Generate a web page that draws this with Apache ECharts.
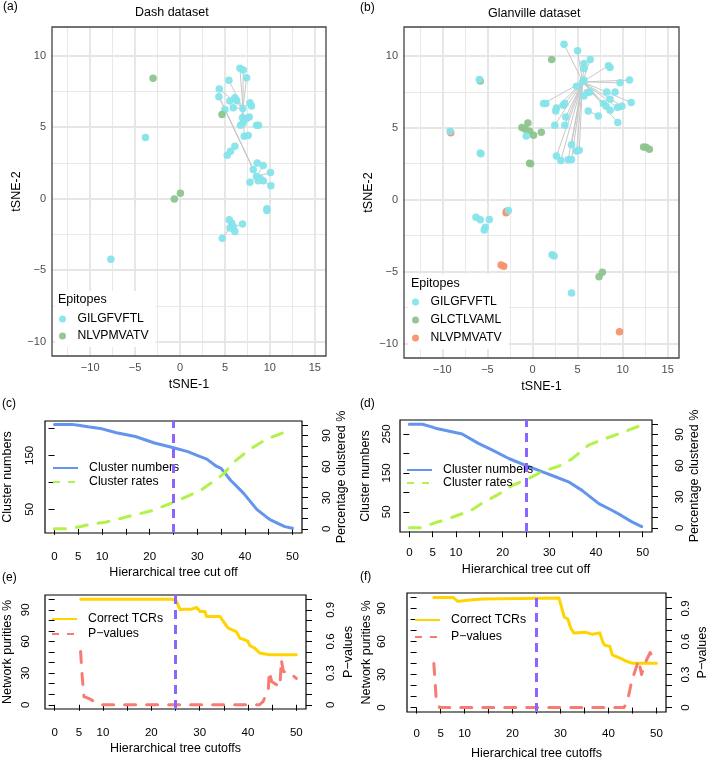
<!DOCTYPE html>
<html>
<head>
<meta charset="utf-8">
<title>tSNE clusters and tree cut-off</title>
<script src="https://cdn.jsdelivr.net/npm/echarts@6/dist/echarts.min.js"></script>
<style>
  html, body { margin: 0; padding: 0; background: #fff; }
  #chart { width: 710px; height: 761px; }
</style>
</head>
<body>
<div id="chart"></div>
<script>
// ---- (a) Dash dataset: tSNE coordinates per epitope ----
var dashGIL = [[-3.85,4.27],[-7.7,-4.24],[6.67,9.11],[7.04,8.99],[7.41,8.46],[5.44,8.27],[4.37,7.66],[4.33,7.13],
  [5.0,6.24],[5.56,6.82],[6.11,7.06],[6.3,6.87],[5.93,6.35],[7.78,6.7],[7.96,6.47],[7.0,6.3],[6.96,5.65],[7.41,5.6],
  [7.7,5.7],[6.74,5.14],[7.04,5.3],[8.52,5.14],[8.74,5.14],[7.15,4.37],[7.59,4.41],[6.11,3.67],[5.63,3.32],[5.26,3.04],
  [8.59,2.5],[9.26,2.31],[8.15,2.03],[10.07,1.82],[8.52,1.56],[8.89,1.45],[9.26,1.26],[8.7,1.26],[7.78,1.14],[10.11,0.91],
  [9.67,-0.7],[9.67,-0.82],[5.48,-1.47],[5.74,-1.7],[6.96,-1.77],[5.56,-2.05],[5.93,-1.94],[6.11,-2.29],[4.7,-2.76]];
var dashNLV = [[-3.0,8.41],[4.67,5.89],[-0.63,-0.02],[0.04,0.37]];
var dashHub = [7.0, 6.3];
var dashSpokes = [[6.67,9.11],[7.04,8.99],[7.41,8.46],[5.44,8.27],[4.37,7.66],[6.11,7.06],[7.78,6.7],[6.96,5.65],
  [6.74,5.14],[7.15,4.37],[5.93,6.35]];
var dashLinks = [[[4.33,7.13],[8.15,2.03]],[[5.0,6.24],[8.52,1.56]],[[4.33,7.13],[8.52,1.56]],[[8.52,1.56],[10.07,1.82]],
  [[8.52,1.56],[9.26,2.31]],[[8.52,1.56],[7.78,1.14]],[[8.52,1.56],[10.11,0.91]],[[4.7,-2.76],[5.56,-2.05]],
  [[5.56,-2.05],[6.96,-1.77]],[[5.48,-1.47],[5.56,-2.05]]];

// ---- (b) Glanville dataset ----
var glanGIL = [[3.5,10.81],[5.0,10.35],[6.41,9.75],[5.7,9.47],[5.7,9.12],[8.42,9.31],[8.6,9.19],[5.7,8.31],[4.89,7.89],
  [5.56,8.19],[9.72,8.12],[10.76,8.31],[6.37,7.49],[6.07,7.45],[5.7,7.21],[8.24,7.49],[9.16,7.49],[8.6,6.98],[7.86,6.68],
  [8.16,6.5],[8.6,6.22],[9.42,6.4],[9.91,6.5],[10.95,6.75],[9.46,5.36],[6.18,6.17],[7.3,5.82],[1.23,6.68],[1.49,6.68],
  [2.65,6.38],[2.58,6.17],[3.4,6.56],[3.58,6.68],[3.69,5.75],[2.47,5.17],[3.58,5.17],[4.33,3.82],[2.65,3.03],[3.14,2.73],
  [3.95,2.78],[4.33,2.8],[4.89,3.38],[5.18,3.43],[-5.9,8.35],[-9.14,4.75],[-5.79,3.24],[-5.72,3.2],[-0.69,4.43],
  [-2.67,-0.75],[-6.27,-1.22],[-5.79,-1.4],[-4.79,-1.38],[-5.23,-1.92],[-5.35,-2.1],[2.17,-3.82],[2.39,-3.91],[4.33,-6.49]];
var glanGLC = [[2.13,9.75],[-5.79,8.24],[-1.18,5.01],[-0.8,4.89],[-0.32,4.75],[0.12,4.47],[0.98,4.68],[-0.51,5.33],
  [-0.32,2.54],[-0.21,2.5],[12.32,3.66],[12.59,3.64],[12.96,3.5],[7.38,-5.35],[7.75,-5.05]];
var glanNLV = [[-9.06,4.66],[-2.86,-0.8],[-2.93,-0.91],[-3.48,-4.54],[-3.19,-4.63],[9.65,-9.18]];
var glanHub = [5.56, 8.19];
var glanSpokes = [[3.5,10.81],[5.0,10.35],[6.41,9.75],[5.7,9.47],[8.42,9.31],[9.72,8.12],[10.76,8.31],[1.23,6.68],
  [3.4,6.56],[2.65,6.38],[2.47,5.17],[3.58,5.17],[3.69,5.75],[4.33,3.82],[2.65,3.03],[3.14,2.73],[3.95,2.78],[4.33,2.8],
  [4.89,3.38],[5.18,3.43],[8.6,6.22],[9.42,6.4],[9.91,6.5],[10.95,6.75],[9.46,5.36],[8.16,6.5],[7.86,6.68]];
var glanLinks = [[[6.18,6.17],[7.3,5.82]]];

var tsneMajor = [-10, -5, 0, 5, 10, 15];
var tsneMinor = [-12.5, -7.5, -2.5, 2.5, 7.5, 12.5];
var tsneYMajor = [-10, -5, 0, 5, 10];
var tsneYMinor = [-7.5, -2.5, 2.5, 7.5];

// ---- (c) Dash: cluster numbers / rates vs cut off ----
var cutNumC = [0, 2, 4, 5, 7, 9.6, 13, 17, 21, 25, 28, 30.5, 32, 34, 35, 37, 39.7, 42.5, 44.5, 45.5, 46.7, 48.4, 50];
var clusterNumC = [207.4, 207.4, 207, 206, 203, 200, 192, 185, 173, 164, 157, 148, 143, 130, 126, 104, 80, 50, 36, 30, 25, 18, 15];
var cutRateC = [0, 2.5, 5.5, 7.3, 10.7, 16.3, 20.5, 25, 30.6, 34.1, 35.5, 37.6, 41.1, 44.7, 48.2, 49];
var clusterRateC = [0, 0, 2.2, 4.1, 6.4, 12.8, 17.6, 25.6, 36.8, 48, 53, 64, 77, 86.8, 93, 94];

// ---- (d) Glanville: cluster numbers / rates vs cut off ----
var cutNumD = [0, 2.8, 4.6, 5.6, 9.1, 11.3, 14.8, 17.7, 21.3, 24.8, 28.4, 31.3, 34.1, 37, 40.6, 43.4, 45.5, 47.7, 49.8];
var clusterNumD = [275, 275, 269, 265, 256, 250, 226, 209, 187, 170, 153, 140, 127, 105, 71, 54, 40, 24, 12];
var cutRateD = [0, 2.5, 5.6, 7.7, 11.3, 12.7, 15.6, 19.1, 22, 25.6, 28.4, 32, 34.8, 38.4, 41.3, 45.5, 49.5];
var clusterRateD = [0, 0, 5.1, 7.8, 13.6, 15.3, 23.8, 32.3, 40.8, 47.6, 54.3, 59.4, 66.3, 79.8, 84.9, 91.7, 98.6];

// ---- (e) Dash: network purity / p-values vs cutoffs ----
var cutTcrE = [5.4, 24.2, 25.1, 26, 26.6, 28.3, 29.4, 30.1, 31.1, 31.4, 34.2, 34.9, 35.9, 37.6, 38.3, 39.3, 40, 40.4, 41.4, 42.4, 44.5, 50];
var tcrE = [100, 100, 98.8, 90, 90.6, 90.6, 92.2, 88.4, 88.4, 83.7, 83.7, 78.9, 72.6, 69.4, 63.1, 61.6, 60, 55.9, 53.7, 49, 47.3, 47.3];
var cutPvalE = [5.36, 5.7, 6.05, 7.4, 8.8, 9.5, 42.4, 43.1, 44.2, 44.4, 44.9, 46.6, 46.9, 47.3, 48.6, 50];
var pvalE = [0.505, 0.268, 0.078, 0.053, 0.009, 0, 0, 0.03, 0.14, 0.315, 0.22, 0.17, 0.426, 0.315, 0.306, 0.25];

// ---- (f) Glanville: network purity / p-values vs cutoffs ----
var cutTcrF = [3.6, 7.6, 8.6, 11.1, 13.8, 21.4, 29.7, 30.1, 30.8, 31.5, 32.2, 32.8, 35.3, 36.7, 38.2, 38.8, 39.2, 40.3, 40.8, 42.4, 43.9, 44.9, 50];
var tcrF = [100, 100, 96.4, 97.6, 98.6, 98.9, 99.4, 99.4, 82, 80.6, 71.6, 67.7, 68.3, 66.5, 67.8, 59.7, 56.7, 55.5, 47.8, 44.8, 41.8, 40.3, 40.3];
var cutPvalF = [3.6, 4.1, 4.8, 43.2, 43.9, 44.9, 45.6, 46.3, 46.9, 47.6, 48.7, 49.4, 50];
var pvalF = [0.40, 0.07, 0, 0, 0.045, 0.25, 0.34, 0.43, 0.3, 0.4, 0.5, 0.44, 0.46];

var cutMark = 25;
var cutTicks = [0, 5, 10, 15, 20, 25, 30, 35, 40, 45, 50];
var cutLabels = [0, 5, 10, 20, 30, 40, 50];
var pctTicks = [0, 10, 20, 30, 40, 50, 60, 70, 80, 90, 100];
var pctLabels = [0, 30, 60, 90];
var pvalTicks = [0, 0.1, 0.2, 0.3, 0.4, 0.5, 0.6, 0.7, 0.8, 0.9, 1];
var pvalLabels = [0, 0.3, 0.6, 0.9];
var numTicksC = [50, 100, 150, 200];
var numLabelsC = [50, 150];
var numTicksD = [50, 100, 150, 200, 250];
var numLabelsD = [50, 150, 250];

var FONT = 'Liberation Sans, Arial, sans-serif';
var CYAN = '#85e4ea', GREEN = '#8dc48d', ORANGE = '#f8916c';
var BLUE = '#6495ed', LIME = '#b2f24a', GOLD = '#ffd400', SALMON = '#f77b70', PURPLE = '#8a66ff';
var GRIDCOL = '#e6e6e6';
var SOLID_ICON = 'path://M0,0h25v2h-25z';
var DASH_ICON = 'path://M0,0h7v2h-7z M15,0h7v2h-7z M24.9,0h0.1v2h-0.1z';

function pairs(xs, ys) {
    return xs.map(function (x, i) { return [x, ys[i]]; });
}
function minus(v) {
    return String(v).replace('-', '\u2212');
}
function edgeData(hub, spokes, links) {
    var out = spokes.map(function (p) { return { coords: [hub, p] }; });
    links.forEach(function (l) { out.push({ coords: l }); });
    return out;
}

// ggplot-like axes; the panel grid is drawn by gridLines() below
function ggX(grid, gap) {
    return {
        gridIndex: grid, type: 'value', min: -14.25, max: 16.25,
        name: 'tSNE-1', nameLocation: 'middle', nameGap: gap,
        nameTextStyle: { fontSize: 12.5, color: '#000', fontFamily: FONT },
        axisLine: { show: false },
        axisTick: { show: true, length: 3, customValues: tsneMajor, lineStyle: { color: '#333', width: 1 } },
        axisLabel: { customValues: tsneMajor, margin: 6, fontSize: 11, color: '#4d4d4d', fontFamily: FONT, formatter: minus },
        splitLine: { show: false }
    };
}
function ggY(grid, gap) {
    return {
        gridIndex: grid, type: 'value', min: -11, max: 12,
        name: 'tSNE-2', nameLocation: 'middle', nameGap: gap,
        nameTextStyle: { fontSize: 12.5, color: '#000', fontFamily: FONT },
        axisLine: { show: false },
        axisTick: { show: true, length: 3, customValues: tsneYMajor, lineStyle: { color: '#333', width: 1 } },
        axisLabel: { customValues: tsneYMajor, margin: 6, fontSize: 11, color: '#4d4d4d', fontFamily: FONT, formatter: minus },
        splitLine: { show: false }
    };
}
function gridLines(xi, yi) {
    var d = [];
    tsneMinor.forEach(function (v) { d.push({ xAxis: v, lineStyle: { width: 0.9 } }); });
    tsneYMinor.forEach(function (v) { d.push({ yAxis: v, lineStyle: { width: 0.9 } }); });
    tsneMajor.forEach(function (v) { d.push({ xAxis: v, lineStyle: { width: 1.9 } }); });
    tsneYMajor.forEach(function (v) { d.push({ yAxis: v, lineStyle: { width: 1.9 } }); });
    return {
        type: 'scatter', xAxisIndex: xi, yAxisIndex: yi, data: [], z: 1, silent: true,
        markLine: {
            silent: true, symbol: 'none', label: { show: false }, animation: false, z: 1,
            lineStyle: { color: GRIDCOL, type: 'solid' }, data: d
        }
    };
}

// base-R style axes
function rX(grid, name, gap, margin) {
    return {
        gridIndex: grid, type: 'value', min: -2, max: 52,
        name: name, nameLocation: 'middle', nameGap: gap,
        nameTextStyle: { fontSize: 12.5, color: '#000', fontFamily: FONT },
        axisLine: { show: false },
        axisTick: { customValues: cutTicks, length: 6, lineStyle: { color: '#000', width: 1 } },
        axisLabel: { customValues: cutLabels, margin: margin, fontSize: 11.5, color: '#000', fontFamily: FONT },
        splitLine: { show: false }
    };
}
function rY(grid, pos, min, max, ticks, labels, name, gap, margin) {
    return {
        gridIndex: grid, type: 'value', position: pos, min: min, max: max,
        name: name, nameLocation: 'middle', nameGap: gap,
        nameTextStyle: { fontSize: 12.5, color: '#000', fontFamily: FONT },
        axisLine: { show: false },
        axisTick: { customValues: ticks, length: 6, lineStyle: { color: '#000', width: 1 } },
        axisLabel: { customValues: labels, margin: margin, rotate: 90, fontSize: 11.5, color: '#000', fontFamily: FONT },
        splitLine: { show: false }
    };
}

function scatter(name, data, color, xi, yi) {
    return {
        name: name, type: 'scatter', xAxisIndex: xi, yAxisIndex: yi, data: data,
        symbolSize: 7.5, itemStyle: { color: color, opacity: 0.95 }, z: 3
    };
}
function edges(data, xi, yi) {
    return {
        type: 'lines', coordinateSystem: 'cartesian2d', xAxisIndex: xi, yAxisIndex: yi,
        data: data, silent: true, lineStyle: { color: '#c8c8c8', width: 1, opacity: 1 }, z: 2
    };
}
function rLine(name, data, color, xi, yi, dashed, mark) {
    var s = {
        name: name, type: 'line', xAxisIndex: xi, yAxisIndex: yi, data: data,
        symbol: 'none', lineStyle: { color: color, width: 3, type: dashed ? [11, 11] : 'solid', cap: 'round', join: 'round' },
        itemStyle: { color: color }, z: dashed ? 3 : 2
    };
    if (mark) {
        s.markLine = {
            silent: true, symbol: 'none', label: { show: false },
            lineStyle: { color: PURPLE, width: 3, type: [9, 6] },
            data: [{ xAxis: cutMark }]
        };
    }
    return s;
}

function tag(text, left, top, size) {
    return { text: text, left: left, top: top, padding: 0, z: 8,
        textStyle: { fontSize: size || 12, fontWeight: 'normal', color: '#000', fontFamily: FONT } };
}
function lineLegend(left, top, gap, names) {
    return {
        orient: 'vertical', left: left, top: top, padding: 0, itemWidth: 25, itemHeight: 2, itemGap: gap,
        symbolKeepAspect: false,
        textStyle: { fontSize: 12.3, color: '#000', fontFamily: FONT, padding: [0, 0, 0, 6] },
        data: [{ name: names[0], icon: SOLID_ICON }, { name: names[1], icon: DASH_ICON }]
    };
}
// ggplot legend: white box that also holds the "Epitopes" title (drawn as a title on top)
function dotLegend(left, top, gap, items) {
    return {
        orient: 'vertical', left: left, top: top, padding: [22, 7, 5, 4], backgroundColor: '#fff', z: 4,
        itemWidth: 20, itemHeight: 7, itemGap: gap, icon: 'circle',
        textStyle: { fontSize: 12.2, color: '#000', fontFamily: FONT },
        data: items.map(function (it) { return { name: it[0], itemStyle: { color: it[1] } }; })
    };
}

var chart = echarts.init(document.getElementById('chart'));
var option = {
    animation: false,
    backgroundColor: '#fff',
    textStyle: { fontFamily: FONT },
    title: [
        tag('(a)', 3, 1), tag('(b)', 360, 2),
        tag('Dash dataset', 135, 6.5, 12.5), tag('Glanville dataset', 488, 7, 12.5),
        tag('Epitopes', 58, 293, 12.5), tag('Epitopes', 411, 277, 12.5),
        tag('(c)', 2, 398), tag('(d)', 360, 398),
        tag('(e)', 2, 572), tag('(f)', 360, 571)
    ],
    legend: [
        dotLegend(55, 291, 5, [['GILGFVFTL', CYAN], ['NLVPMVATV', GREEN]]),
        dotLegend(408, 274, 6, [['GILGFVFTL', CYAN], ['GLCTLVAML', GREEN], ['NLVPMVATV', ORANGE]]),
        lineLegend(53, 462, 2, ['Cluster numbers', 'Cluster rates']),
        lineLegend(407, 464, 1, ['Cluster numbers', 'Cluster rates']),
        lineLegend(52, 613, 3, ['Correct TCRs', 'P\u2212values']),
        lineLegend(415, 614, 5, ['Correct TCRs', 'P\u2212values'])
    ],
    grid: [
        { left: 52, top: 27, width: 274, height: 329, show: true, borderColor: '#444', borderWidth: 1.3, z: 5 },
        { left: 404, top: 27, width: 275, height: 331, show: true, borderColor: '#444', borderWidth: 1.3, z: 5 },
        { left: 45, top: 421, width: 257, height: 112, show: true, borderColor: '#000', borderWidth: 1.2 },
        { left: 400, top: 420, width: 252, height: 112, show: true, borderColor: '#000', borderWidth: 1.2 },
        { left: 45, top: 595, width: 261, height: 114, show: true, borderColor: '#000', borderWidth: 1.2 },
        { left: 407, top: 593, width: 259, height: 120, show: true, borderColor: '#000', borderWidth: 1.2 }
    ],
    xAxis: [
        ggX(0, 22), ggX(1, 22),
        rX(2, 'Hierarchical tree cut off', 33, 18), rX(3, 'Hierarchical tree cut off', 31, 15),
        rX(4, 'Hierarchical tree cutoffs', 33, 18), rX(5, 'Hierarchical tree cutoffs', 35, 16)
    ],
    yAxis: [
        ggY(0, 24), ggY(1, 21),
        rY(2, 'left', 6.2, 213.7, numTicksC, numLabelsC, 'Cluster numbers', 31, 9),
        rY(2, 'right', -4, 104, pctTicks, pctLabels, 'Percentage clustered %', 33, 19),
        rY(3, 'left', -2, 286, numTicksD, numLabelsD, 'Cluster numbers', 28, 7),
        rY(3, 'right', -4, 104, pctTicks, pctLabels, 'Percentage clustered %', 36, 22),
        rY(4, 'left', -4, 104, pctTicks, pctLabels, 'Network purities %', 31, 13),
        rY(4, 'right', -0.04, 1.04, pvalTicks, pvalLabels, 'P\u2212values', 36, 19),
        rY(5, 'left', -4, 104, pctTicks, pctLabels, 'Network purities %', 34, 19),
        rY(5, 'right', -0.04, 1.04, pvalTicks, pvalLabels, 'P\u2212values', 30, 14)
    ],
    series: [
        gridLines(0, 0),
        edges(edgeData(dashHub, dashSpokes, dashLinks), 0, 0),
        scatter('GILGFVFTL', dashGIL, CYAN, 0, 0),
        scatter('NLVPMVATV', dashNLV, GREEN, 0, 0),
        gridLines(1, 1),
        edges(edgeData(glanHub, glanSpokes, glanLinks), 1, 1),
        scatter('NLVPMVATV', glanNLV, ORANGE, 1, 1),
        scatter('GLCTLVAML', glanGLC, GREEN, 1, 1),
        scatter('GILGFVFTL', glanGIL, CYAN, 1, 1),
        rLine('Cluster numbers', pairs(cutNumC, clusterNumC), BLUE, 2, 2, false, false),
        rLine('Cluster rates', pairs(cutRateC, clusterRateC), LIME, 2, 3, true, true),
        rLine('Cluster numbers', pairs(cutNumD, clusterNumD), BLUE, 3, 4, false, false),
        rLine('Cluster rates', pairs(cutRateD, clusterRateD), LIME, 3, 5, true, true),
        rLine('Correct TCRs', pairs(cutTcrE, tcrE), GOLD, 4, 6, false, false),
        rLine('P\u2212values', pairs(cutPvalE, pvalE), SALMON, 4, 7, true, true),
        rLine('Correct TCRs', pairs(cutTcrF, tcrF), GOLD, 5, 8, false, false),
        rLine('P\u2212values', pairs(cutPvalF, pvalF), SALMON, 5, 9, true, true)
    ]
};
chart.setOption(option);
</script>
</body>
</html>
